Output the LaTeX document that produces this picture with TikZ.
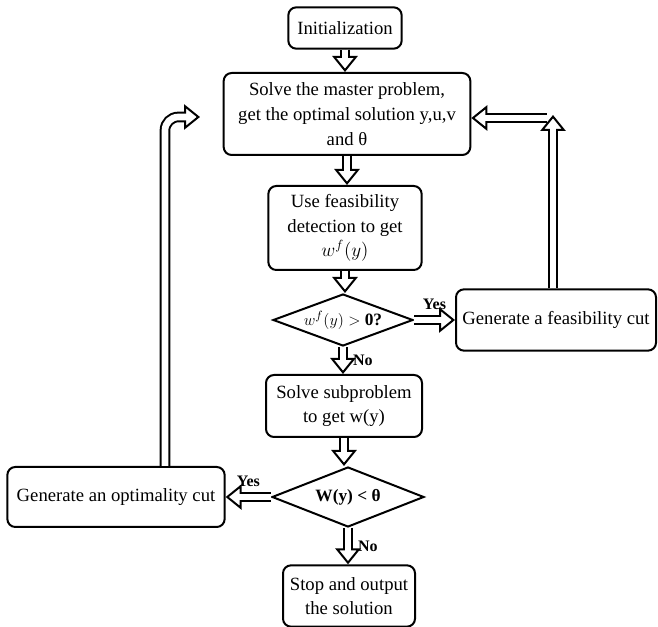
\documentclass[tikz,border=0pt]{standalone}
\usepackage{fontspec}
\setmainfont{Liberation Serif}
\usetikzlibrary{shapes.geometric,arrows.meta}
\tikzset{
  centered/.style = { align=center, anchor=center },
   stepbox/.style = { draw, line width=1.5pt, rounded corners=6pt, centered, inner sep=2pt,
                      font=\fontsize{14}{18.5}\selectfont },
      test/.style = { draw, diamond, aspect=2.7, line width=1.5pt, centered, inner sep=0pt,
                      font=\fontsize{13}{15}\selectfont },
    answer/.style = { font=\fontsize{12}{14}\selectfont\bfseries, inner sep=1pt },
      flow/.style = { draw=white, line width=5pt, shorten >=9pt,
                      preaction={draw=black, line width=8pt, shorten >=11.5pt},
                      preaction={draw=black, line width=1.5pt, shorten >=0pt,
                                 -{Triangle[open, length=12pt, width=19pt]}} },
}

\begin{document}
\begin{tikzpicture}[x=0.75pt, y=-0.75pt]
  \useasboundingbox (0,0) rectangle (658,627);

  \node[stepbox, minimum width=85pt,  minimum height=31pt]   (init)   at (345,28)  {Initialization};
  \node[stepbox, minimum width=185pt, minimum height=61.5pt] (master) at (347,114)
    {Solve the master problem,\\ get the optimal solution y,u,v\\ and θ};
  \node[stepbox, minimum width=115pt, minimum height=63pt]   (feas)   at (345,228)
    {Use feasibility\\ detection to get\\ $w^f(y)$};
  \node[test, minimum width=105pt, minimum height=39pt]      (testf)  at (343,320)
    {$w^f(y) >$ \textbf{0?}};
  \node[stepbox, minimum width=150pt, minimum height=46pt]   (fcut)   at (556,320)
    {Generate a feasibility cut};
  \node[stepbox, minimum width=117pt, minimum height=46.5pt] (sub)    at (344,406)
    {Solve subproblem\\ to get w(y)};
  \node[test, minimum width=114pt, minimum height=45pt]      (testo)  at (348,497)
    {\textbf{W(y) < θ}};
  \node[stepbox, minimum width=163pt, minimum height=45pt]   (ocut)   at (116,497)
    {Generate an optimality cut};
  \node[stepbox, minimum width=99pt,  minimum height=46pt]   (stop)   at (349,596)
    {Stop and output\\ the solution};

  \foreach \a/\b in {init/master, master/feas, feas/testf, sub/testo} {
    \draw[flow] (\a.south) -- (\a.south |- \b.north);
  }
  \draw[flow] (testf.south) -- (testf.south |- sub.north)
    node[answer, midway, right=4pt] {No};
  \draw[flow] (testo.south) -- (testo.south |- stop.north)
    node[answer, midway, right=4pt] {No};
  \draw[flow] (testf.east) -- (fcut.west)
    node[answer, midway, above=4pt] {Yes};
  \draw[flow] (testo.west) -- (ocut.east)
    node[answer, midway, above=4pt] {Yes};

  \coordinate (fctop)  at (553,115);
  \coordinate (fcturn) at (547,118);
  \coordinate (optend) at (200,117);
  \draw[flow] (fcut.north -| fctop) -- (fctop);
  \draw[flow] (fcturn) -- (fcturn -| master.east);
  \draw[flow, rounded corners=10pt] ([xshift=36.75pt]ocut.north) |- (optend);
\end{tikzpicture}
\end{document}
